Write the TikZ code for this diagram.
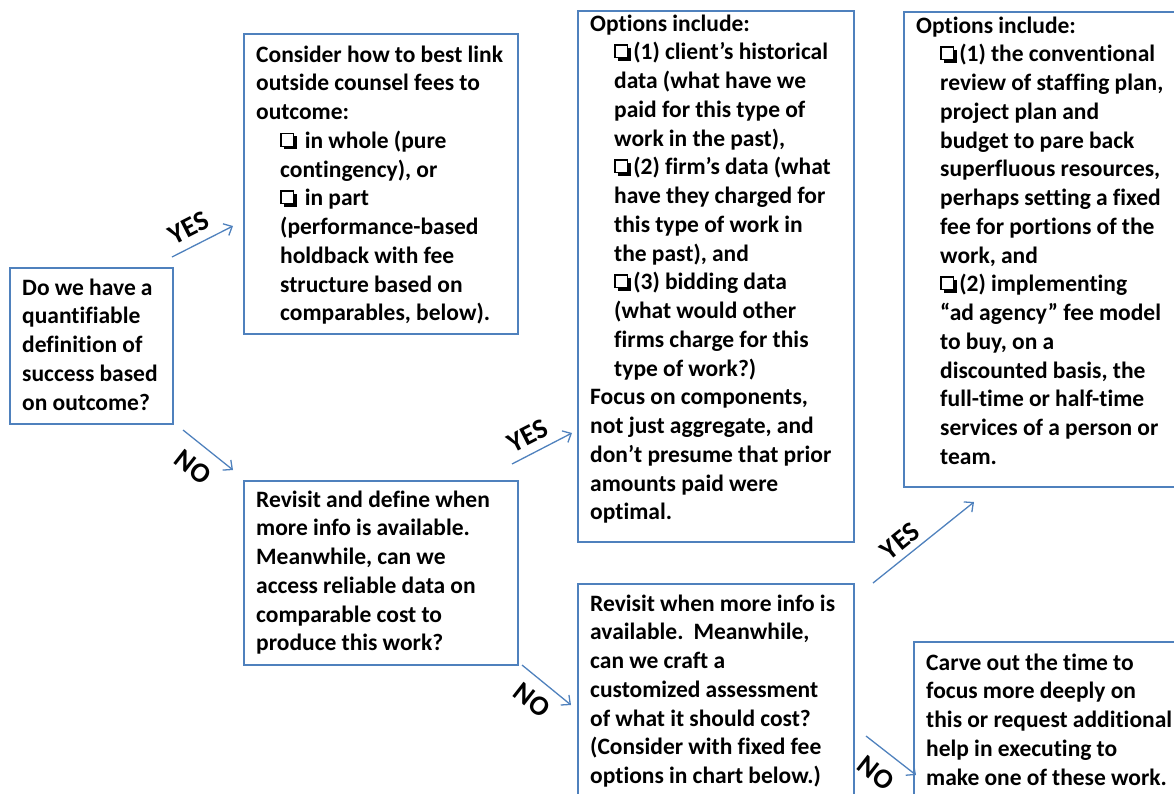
\documentclass[tikz,border=0pt]{standalone}
\usepackage{fontspec}
\setmainfont{Carlito}[Ligatures=NoCommon]
\usetikzlibrary{arrows.meta}
\definecolor{boxblue}{HTML}{4F81BD}
\newcommand\cbx{\tikz[baseline=0pt,x=1pt,y=1pt]{\fill[black] (3.4,-0.6) rectangle (16.6,12.0);\filldraw[fill=white,draw=black,line width=1.3pt] (0.65,2.2) rectangle (13.6,15.0);}}
\newcommand\ind{\hspace*{24pt}}
\newcommand\fl{\spaceskip=5.2pt\relax\xspaceskip=5.2pt\relax\rule{0pt}{20pt}}
\tikzset{
  box/.style={draw=boxblue, line width=1.5pt, rectangle, inner sep=0pt, anchor=north west},
  txt/.style={anchor=north west, inner sep=0pt, text width=320pt, align=left,
    font=\bfseries\fontsize{23.5}{28.75}\selectfont},
  lbl/.style={inner sep=0pt, font=\bfseries\fontsize{28}{28}\selectfont},
  arr/.style={draw=boxblue, line width=1.3pt, -{Straight Barb[length=7pt,width=13pt,line width=1.3pt]}}
}
\begin{document}
\begin{tikzpicture}[x=1pt,y=-1pt]
\useasboundingbox (0,0) rectangle (1174,793);
\clip (0,0) rectangle (1174,793);
% boxes
\node[box, minimum width=163pt, minimum height=156pt] (q) at (9,267) {};
\node[box, minimum width=274pt, minimum height=300pt] (c) at (243,33) {};
\node[box, minimum width=276pt, minimum height=531pt] (o1) at (577,10) {};
\node[box, minimum width=290pt, minimum height=475pt] (o2) at (903,11) {};
\node[box, minimum width=274pt, minimum height=184pt] (r) at (243,480) {};
\node[box, minimum width=276pt, minimum height=230pt] (r2) at (577,583) {};
\node[box, minimum width=290pt, minimum height=180pt] (cv) at (913,641) {};
% texts
\node[txt] (qt) at (22,275) {\fl Do we have a\\quantifiable\\definition of\\success based\\on outcome?};
\node[txt] (ct) at (256,42) {\fl Consider how to best link\\outside counsel fees to\\outcome:\\
\ind\cbx\hspace{8pt}in whole (pure\\\ind contingency), or\\\ind\cbx\hspace{8pt}in part\\\ind (performance-based\\
\ind holdback with fee\\\ind structure based on\\\ind comparables, below).};
\node[txt] (o1t) at (590,11) {\fl Options include:\\
\ind\cbx\hspace{2.5pt}(1) client’s historical\\\ind data (what have we\\\ind paid for this type of\\\ind work in the past),\\
\ind\cbx\hspace{2.5pt}(2) firm’s data (what\\\ind have they charged for\\\ind this type of work in\\\ind the past), and\\
\ind\cbx\hspace{2.5pt}(3) bidding data\\\ind (what would other\\\ind firms charge for this\\\ind type of work?)\\
Focus on components,\\not just aggregate, and\\don’t presume that prior\\amounts paid were\\optimal.};
\node[txt] (o2t) at (916,13) {\fl Options include:\\
\ind\cbx\hspace{2.5pt}(1) the conventional\\\ind review of staffing plan,\\\ind project plan and\\\ind budget to pare back\\
\ind superfluous resources,\\\ind perhaps setting a fixed\\\ind fee for portions of the\\\ind work, and\\
\ind\cbx\hspace{2.5pt}(2) implementing\\\ind “ad agency” fee model\\\ind to buy, on a\\\ind discounted basis, the\\
\ind full-time or half-time\\\ind services of a person or\\\ind team.};
\node[txt] (rt) at (256,487) {\fl Revisit and define when\\more info is available.\\Meanwhile, can we\\access reliable data on\\comparable cost to\\produce this work?};
\node[txt] (r2t) at (590,591) {\fl Revisit when more info is\\available.\hspace{10pt}Meanwhile,\\can we craft a\\customized assessment\\of what it should cost?\\(Consider with fixed fee\\options in chart below.)};
\node[txt] (cvt) at (926,650) {\fl Carve out the time to\\focus more deeply on\\this or request additional\\help in executing to\\make one of these work.};
% arrows
\coordinate (y1s) at (172,257); \coordinate (y1e) at (233,226);
\coordinate (n1s) at (183,430); \coordinate (n1e) at (233,470);
\coordinate (y2s) at (512,464); \coordinate (y2e) at (572,433);
\coordinate (n2s) at (522,665); \coordinate (n2e) at (571,705);
\coordinate (y3s) at (873,583); \coordinate (y3e) at (974,502);
\coordinate (n3s) at (866,736); \coordinate (n3e) at (916,775);
\draw[arr] (y1s) -- (y1e);
\draw[arr] (n1s) -- (n1e);
\draw[arr] (y2s) -- (y2e);
\draw[arr] (n2s) -- (n2e);
\draw[arr] (y3s) -- (y3e);
\draw[arr] (n3s) -- (n3e);
% labels
\node[lbl, rotate=27] (ly1) at (189,228) {YES};
\node[lbl, rotate=-38] (ln1) at (193,467) {NO};
\node[lbl, rotate=27] (ly2) at (528,436) {YES};
\node[lbl, rotate=-38] (ln2) at (532,700) {NO};
\node[lbl, rotate=39] (ly3) at (900,541) {YES};
\node[lbl, rotate=-38] (ln3) at (876,773) {NO};
\end{tikzpicture}
\end{document}
